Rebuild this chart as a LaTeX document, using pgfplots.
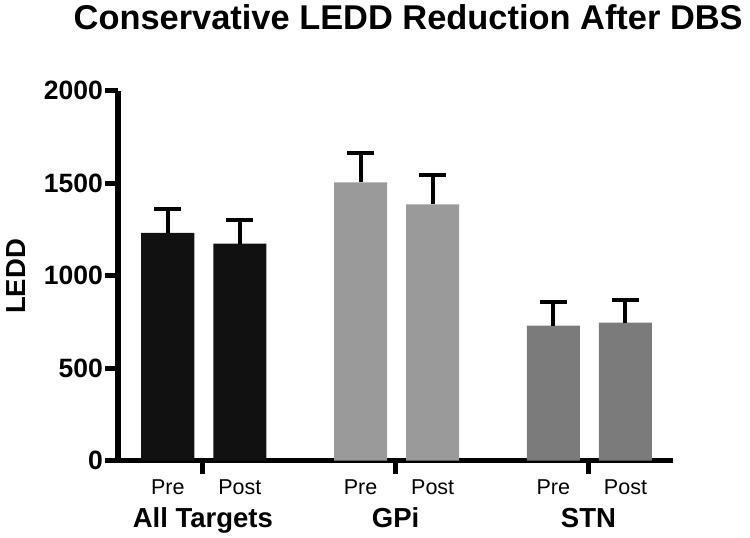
\documentclass[border=0pt]{standalone}
\usepackage{pgfplots}
\pgfplotsset{compat=1.18}
\usepackage{fontspec}
\setmainfont{Liberation Sans}
\definecolor{barAll}{HTML}{111111}
\definecolor{barGPi}{HTML}{9A9A9A}
\definecolor{barSTN}{HTML}{7B7B7B}
\newcommand{\fs}[1]{\fontsize{#1}{#1}\selectfont}
\tikzset{
  grp/.style={anchor=base, font=\fs{27.5bp}\bfseries, inner sep=0pt},
  sub/.style={anchor=base, font=\fs{21.5bp}, inner sep=0pt},
}
\begin{document}
\begin{tikzpicture}
\useasboundingbox (0,0) rectangle (750bp,538bp);
% title, reaches nearly to the right edge as in the source image
\node[anchor=base west, inner sep=0pt, font=\fs{34.4bp}\bfseries]
  at (73.5bp,508bp) {Conservative LEDD Reduction After DBS};
\node[rotate=90, anchor=base, inner sep=0pt, font=\fs{27.5bp}\bfseries]
  at (25bp,261.5bp) {LEDD};
\begin{axis}[
  at={(118bp,77.3bp)}, anchor=south west,
  scale only axis, width=555.3bp, height=370bp,
  xmin=0.56, xmax=3.44, ymin=0, ymax=2000,
  axis x line*=bottom, axis y line*=left,
  axis line style={line width=5bp, black},
  ytick={0,500,...,2000}, xtick={1,2,3}, xticklabels={},
  tick align=outside, major tick length=13bp,
  tick style={line width=5bp, black},
  scaled y ticks=false,
  /pgf/number format/1000 sep={},
  /pgf/number format/assume math mode=true,
  yticklabel style={font=\fs{26.5bp}\bfseries, inner sep=2pt},
  ybar, bar width=0.275, bar shift=0pt,
  clip=false,
  error bars/y dir=plus, error bars/y explicit,
  error bars/error bar style={line width=4bp, black},
  error bars/error mark options={rotate=90, line width=4bp, black, mark size=13.5bp},
]
  % All Targets
  \addplot[fill=barAll, draw=none] coordinates {
    (0.818,1232) +- (0,130)
    (1.192,1173) +- (0,128)
  };
  % GPi
  \addplot[fill=barGPi, draw=none] coordinates {
    (1.818,1505) +- (0,157)
    (2.192,1386) +- (0,158)
  };
  % STN
  \addplot[fill=barSTN, draw=none] coordinates {
    (2.818,730) +- (0,128)
    (3.192,746) +- (0,122)
  };
  \node[sub, yshift=-33.6bp] at (axis cs:0.818,0) {Pre};
  \node[sub, yshift=-33.6bp] at (axis cs:1.192,0) {Post};
  \node[sub, yshift=-33.6bp] at (axis cs:1.818,0) {Pre};
  \node[sub, yshift=-33.6bp] at (axis cs:2.192,0) {Post};
  \node[sub, yshift=-33.6bp] at (axis cs:2.818,0) {Pre};
  \node[sub, yshift=-33.6bp] at (axis cs:3.192,0) {Post};
  \node[grp, yshift=-66.6bp] at (axis cs:1,0) {All Targets};
  \node[grp, yshift=-66.6bp] at (axis cs:2,0) {GPi};
  \node[grp, yshift=-66.6bp] at (axis cs:3,0) {STN};
\end{axis}
\end{tikzpicture}
\end{document}
